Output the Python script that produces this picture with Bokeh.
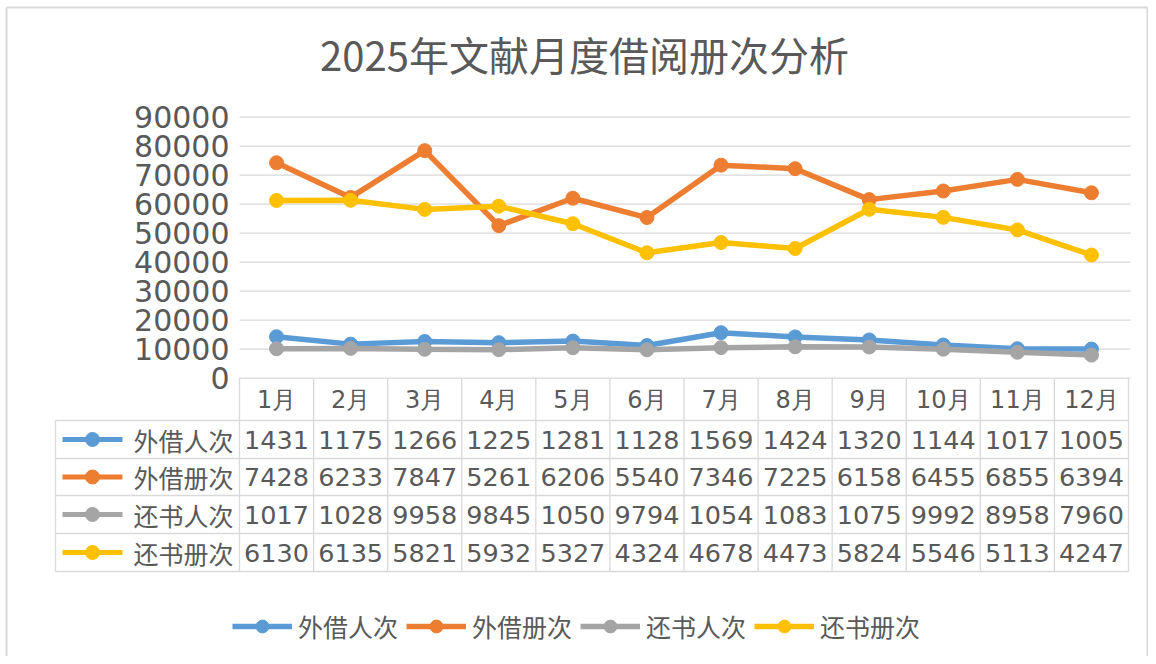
from bokeh.plotting import figure
from bokeh.models import Range1d, Legend, LegendItem
from bokeh.core.properties import value
from bokeh.embed import file_html
from bokeh.resources import INLINE

# ---------------- data ----------------
title_text = "2025年文献月度借阅册次分析"
months = ["1月", "2月", "3月", "4月", "5月", "6月", "7月", "8月", "9月", "10月", "11月", "12月"]
series_names = ["外借人次", "外借册次", "还书人次", "还书册次"]
borrow_people = [14310, 11750, 12660, 12250, 12810, 11280, 15690, 14240, 13200, 11440, 10170, 10050]
borrow_books = [74280, 62330, 78470, 52610, 62060, 55400, 73460, 72250, 61580, 64550, 68550, 63940]
return_people = [10170, 10280, 9958, 9845, 10500, 9794, 10540, 10830, 10750, 9992, 8958, 7960]
return_books = [61300, 61350, 58210, 59320, 53270, 43240, 46780, 44730, 58240, 55460, 51130, 42470]
y_ticks = [0, 10000, 20000, 30000, 40000, 50000, 60000, 70000, 80000, 90000]

series_values = [borrow_people, borrow_books, return_people, return_books]
colors = ["#5B9BD5", "#ED7D31", "#A5A5A5", "#FFC000"]
TEXT = "#595959"
GRID = "#D9D9D9"

# ---------------- layout helpers (picture pixels -> data units) ----------------
W, H = 1148, 656
OFF = 0
X0_PAGE = 239.0          # left edge of month columns
COL_W = (1128.0 - 239.0) / 12
Y0_PAGE = 377.7          # value 0
PPU = (377.7 - 116.7) / 90000.0


def xd(px):
    return (px - X0_PAGE) / COL_W


def yd(py):
    return (Y0_PAGE - py) / PPU


p = figure(width=W, height=H,
           x_range=Range1d(xd(OFF), xd(OFF + W)),
           y_range=Range1d(yd(OFF + H), yd(OFF)),
           x_axis_type=None, y_axis_type=None,
           output_backend="svg", toolbar_location=None, tools="",
           min_border=0)
p.outline_line_color = None
p.background_fill_color = "white"
p.border_fill_color = "white"

xs = [i + 0.5 for i in range(len(months))]

# ---- chart border (left, top, right)
p.segment(x0=[xd(6), xd(6), xd(1147)], y0=[yd(7), yd(7), yd(7)],
          x1=[xd(6), xd(1147), xd(1147)], y1=[yd(660), yd(7), yd(660)],
          line_color=GRID, line_width=2)

# ---- title
p.text(x=[xd(584)], y=[yd(53)], text=[title_text], text_align="center",
       text_baseline="middle", text_font=value("Noto Sans CJK SC"),
       text_font_size="40px", text_color=TEXT)

# ---- gridlines
p.segment(x0=[0] * len(y_ticks), y0=y_ticks, x1=[12.03] * len(y_ticks), y1=y_ticks,
          line_color=GRID, line_width=1.3)

# ---- y tick labels
p.text(x=[xd(229)] * len(y_ticks), y=y_ticks, text=[str(t) for t in y_ticks],
       text_align="right", text_baseline="middle", text_font=value("DejaVu Sans"),
       text_font_size="30px", text_color=TEXT)

# ---- series
legend_items = []
for name, vals, col in zip(series_names, series_values, colors):
    lr = p.line(xs, vals, line_color=col, line_width=5.5)
    sr = p.scatter(xs, vals, size=14, fill_color=col, line_color=col)
    legend_items.append(LegendItem(label=name, renderers=[lr, sr]))

# ---- data table
row_lines_page = [420, 458, 495, 533, 571]
row_centers_page = [(row_lines_page[i] + row_lines_page[i + 1]) / 2 for i in range(4)]
tbl_bottom = yd(row_lines_page[-1])
p.segment(x0=list(range(13)), y0=[0] * 13, x1=list(range(13)), y1=[tbl_bottom] * 13,
          line_color=GRID, line_width=1.3)
p.segment(x0=[xd(55)], y0=[yd(row_lines_page[0])], x1=[xd(55)], y1=[tbl_bottom],
          line_color=GRID, line_width=1.3)
p.segment(x0=[xd(55)] * 5, y0=[yd(v) for v in row_lines_page],
          x1=[12] * 5, y1=[yd(v) for v in row_lines_page],
          line_color=GRID, line_width=1.3)

# header
p.text(x=xs, y=[yd(399)] * 12, text=months, text_align="center", text_baseline="middle",
       text_font=value("DejaVu Sans"), text_font_size="24px", text_color=TEXT)

# cells
for r, vals in enumerate(series_values):
    cy = yd(row_centers_page[r])
    p.text(x=xs, y=[cy] * 12, text=[str(int(v))[:4] for v in vals],
           text_align="center", text_baseline="middle",
           text_font=value("DejaVu Sans"), text_font_size="25.5px", text_color=TEXT)

# row labels with key
for r, (name, col) in enumerate(zip(series_names, colors)):
    cy = yd(row_centers_page[r])
    p.segment(x0=[xd(62)], y0=[cy], x1=[xd(122)], y1=[cy], line_color=col, line_width=5)
    p.scatter(x=[xd(92)], y=[cy], size=14, fill_color=col, line_color=col)
    p.text(x=[xd(233)], y=[cy], text=[name], text_align="right", text_baseline="middle",
           text_font=value("Noto Sans CJK SC"), text_font_size="25px", text_color=TEXT)

# ---- bottom legend
legend = Legend(items=legend_items, orientation="horizontal", location=(232, 12),
                glyph_width=60, glyph_height=32, label_standoff=6, spacing=8,
                padding=0, margin=0, border_line_color=None,
                background_fill_alpha=0,
                label_text_font="Noto Sans CJK SC", label_text_font_size="25px",
                label_text_color=TEXT)
p.add_layout(legend)

open("out.html", "w").write(file_html(p, INLINE))
